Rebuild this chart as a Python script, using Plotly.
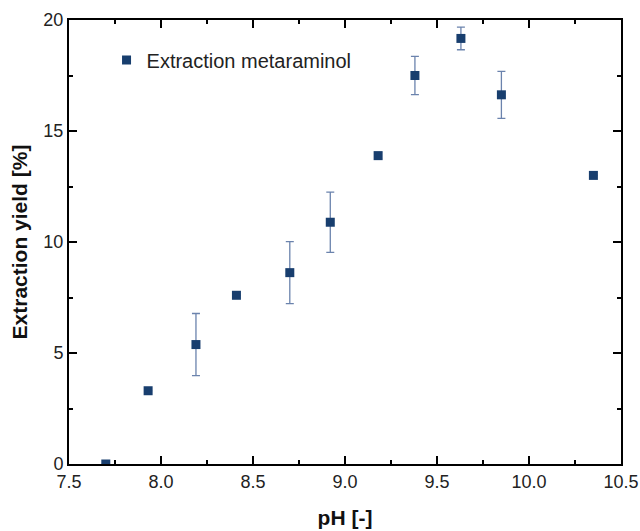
import plotly.graph_objects as go

ph = [7.70, 7.93, 8.19, 8.41, 8.70, 8.92, 9.18, 9.38, 9.63, 9.85, 10.35]
yield_pct = [0.0, 3.30, 5.38, 7.60, 8.62, 10.89, 13.89, 17.50, 19.17, 16.63, 13.00]
err = [0.0, 0.0, 1.40, 0.0, 1.40, 1.36, 0.15, 0.86, 0.51, 1.06, 0.0]

x_range = [7.5, 10.5]
y_range = [0, 20]

font_family = "Liberation Sans, Arial, sans-serif"

fig = go.Figure()
fig.add_trace(go.Scatter(
    x=ph, y=yield_pct,
    mode="markers",
    name="Extraction metaraminol",
    marker=dict(symbol="square", size=9, color="#183e6e", line=dict(width=0)),
    error_y=dict(type="data", array=err, visible=True, color="#6b83ad",
                 thickness=1.3, width=4),
))

axis_common = dict(
    showline=True, linecolor="#000000", linewidth=2, mirror="ticks",
    ticks="inside", ticklen=8, tickwidth=2, tickcolor="#000000",
    showgrid=False, zeroline=False, automargin=False,
    tickfont=dict(family=font_family, size=18, color="#222222"),
)

fig.update_xaxes(
    range=x_range, tick0=7.5, dtick=0.5, tickformat=".1f",
    minor=dict(ticks="inside", ticklen=4, dtick=0.25, tick0=7.5, tickcolor="#000000"),
    title=dict(text="<b>pH [-]</b>", font=dict(family=font_family, size=21, color="#111111"), standoff=20),
    **axis_common,
)
fig.update_yaxes(
    range=y_range, tick0=0, dtick=5,
    minor=dict(ticks="inside", ticklen=4, dtick=2.5, tick0=0, tickcolor="#000000"),
    title=dict(text="<b>Extraction yield [%]</b>", font=dict(family=font_family, size=21, color="#111111"), standoff=10),
    **axis_common,
)

fig.update_layout(
    width=640, height=531,
    margin=dict(l=69, r=19, t=20, b=67),
    paper_bgcolor="white", plot_bgcolor="white",
    showlegend=True,
    legend=dict(x=0.068, y=0.91, xanchor="left", yanchor="middle",
                bgcolor="rgba(0,0,0,0)",
                font=dict(family=font_family, size=20, color="#222222")),
)

fig.write_html("out.html", config={"displayModeBar": False},
               post_script="document.body.style.margin='0';")
